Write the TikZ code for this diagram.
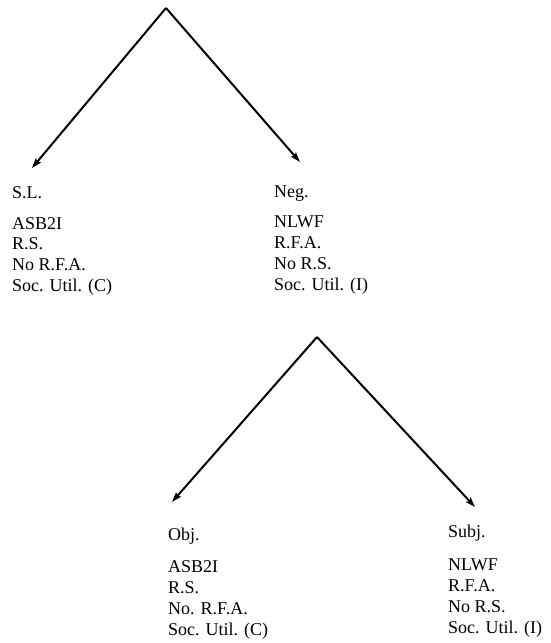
\documentclass[tikz,border=0pt]{standalone}
\usepackage{fontspec}
\setmainfont{Liberation Serif}
\usetikzlibrary{arrows.meta}
\begin{document}
\begin{tikzpicture}[x=1pt,y=1pt,
  branch/.style={line width=2pt,line join=round,-{Stealth[length=10pt,width=6.5pt,inset=2pt]}},
  title/.style={anchor=base west,inner sep=0pt,font=\fontsize{18}{20.8}\selectfont},
  body/.style={anchor=base west,inner sep=0pt,align=left,font=\fontsize{18}{20.8}\selectfont}]
\useasboundingbox (0,-643) rectangle (551,0);

% upper fork
\coordinate (top1) at (166,-8);
\coordinate (tipSL) at (32,-168);
\coordinate (tipNeg) at (300,-162);
\draw[branch] (top1) -- (tipSL);
\draw[branch] (top1) -- (tipNeg);

% labels; body nodes are placed by the baseline of their last line
\node[title] (sl) at (12,-198) {S.L.};
\node[body] (slbody) at (12,-291.5) {ASB2I\\R.S.\\No R.F.A.\\Soc. Util. (C)};
\node[title] (neg) at (274,-197) {Neg.};
\node[body] (negbody) at (274,-290) {NLWF\\R.F.A.\\No R.S.\\Soc. Util. (I)};

% lower fork
\coordinate (top2) at (317,-337);
\coordinate (tipObj) at (172,-502);
\coordinate (tipSubj) at (475,-507);
\draw[branch] (top2) -- (tipObj);
\draw[branch] (top2) -- (tipSubj);

\node[title] (obj) at (168,-540) {Obj.};
\node[body] (objbody) at (168,-635) {ASB2I\\R.S.\\No. R.F.A.\\Soc. Util. (C)};
\node[title] (subj) at (448,-537) {Subj.};
\node[body] (subjbody) at (448,-633) {NLWF\\R.F.A.\\No R.S.\\Soc. Util. (I)};
\end{tikzpicture}
\end{document}
